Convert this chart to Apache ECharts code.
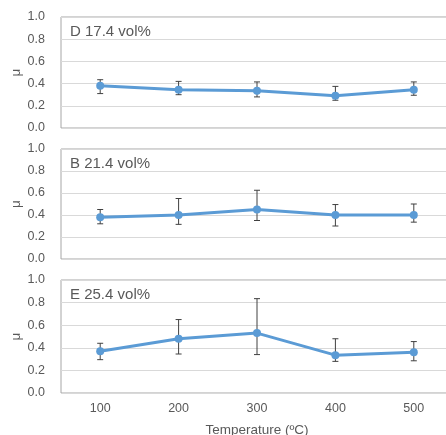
<!DOCTYPE html>
<html>
<head>
<meta charset="utf-8">
<script src="https://cdn.jsdelivr.net/npm/echarts@6/dist/echarts.min.js"></script>
<style>
  html, body { margin: 0; padding: 0; background: #fff; }
  #chart { width: 446px; height: 435px; }
</style>
</head>
<body>
<div id="chart"></div>
<script>
// temperatures (°C)
const temps = ['100', '200', '300', '400', '500']
const panelNames = ['D 17.4 vol%', 'B 21.4 vol%', 'E 25.4 vol%']

// mean friction coefficient per panel
const muD = [0.38, 0.345, 0.335, 0.29, 0.345]
const muB = [0.38, 0.40, 0.45, 0.40, 0.40]
const muE = [0.37, 0.48, 0.53, 0.335, 0.36]

// error bar lows / highs
const lowD = [0.31, 0.30, 0.28, 0.25, 0.295]
const highD = [0.435, 0.42, 0.415, 0.375, 0.415]
const lowB = [0.32, 0.315, 0.35, 0.30, 0.335]
const highB = [0.45, 0.55, 0.625, 0.495, 0.50]
const lowE = [0.295, 0.345, 0.34, 0.28, 0.285]
const highE = [0.44, 0.65, 0.835, 0.48, 0.455]

const means = [muD, muB, muE]
const lows = [lowD, lowB, lowE]
const highs = [highD, highB, highE]

const grids = [
  { left: 61, width: 392, top: 17, height: 111 },
  { left: 61, width: 392, top: 149, height: 110 },
  { left: 61, width: 392, top: 280, height: 113 },
]

const font = 'Liberation Sans, Arial, sans-serif'
const labelColor = '#595959'

const chart = echarts.init(document.getElementById('chart'))

const xAxes = [], yAxes = [], series = [], titles = []
grids.forEach((g, i) => {
  const last = i === grids.length - 1
  xAxes.push({
    gridIndex: i,
    type: 'category',
    data: temps,
    boundaryGap: true,
    axisLine: { show: false },
    axisTick: { show: false },
    axisLabel: { show: last, color: labelColor, fontSize: 12.5, fontFamily: font, margin: 9 },
    name: last ? 'Temperature (ºC)' : '',
    nameLocation: 'middle',
    nameGap: 30,
    nameMoveOverlap: false,
    nameTextStyle: { color: labelColor, fontSize: 13.5, fontFamily: font },
  })
  yAxes.push({
    gridIndex: i,
    type: 'value',
    min: 0, max: 1, interval: 0.2,
    axisLine: { show: false },
    axisTick: { show: false },
    axisLabel: { color: labelColor, fontSize: 12.5, fontFamily: font, margin: 16,
      formatter: v => v.toFixed(1) },
    splitLine: { lineStyle: { color: '#d9d9d9', width: 1 } },
    name: 'μ',
    nameLocation: 'middle',
    nameGap: 38,
    nameMoveOverlap: false,
    nameTextStyle: { color: labelColor, fontSize: 13.5, fontFamily: font },
  })
  titles.push({
    text: panelNames[i],
    left: 70,
    top: g.top + 7,
    padding: 0,
    textStyle: { color: labelColor, fontSize: 15, fontWeight: 'normal', fontFamily: font },
  })
  series.push({
    type: 'custom',
    xAxisIndex: i,
    yAxisIndex: i,
    z: 3,
    data: temps.map((t, k) => [k, lows[i][k], highs[i][k]]),
    renderItem: (params, api) => {
      const lo = api.coord([api.value(0), api.value(1)])
      const hi = api.coord([api.value(0), api.value(2)])
      const st = { stroke: '#404040', lineWidth: 1 }
      return {
        type: 'group',
        children: [
          { type: 'line', shape: { x1: lo[0], y1: lo[1], x2: hi[0], y2: hi[1] }, style: st },
          { type: 'line', shape: { x1: lo[0] - 3, y1: lo[1], x2: lo[0] + 3, y2: lo[1] }, style: st },
          { type: 'line', shape: { x1: hi[0] - 3, y1: hi[1], x2: hi[0] + 3, y2: hi[1] }, style: st },
        ],
      }
    },
  })
  series.push({
    type: 'line',
    xAxisIndex: i,
    yAxisIndex: i,
    z: 4,
    data: means[i],
    symbol: 'circle',
    symbolSize: 8,
    lineStyle: { color: '#5b9bd5', width: 3 },
    itemStyle: { color: '#5b9bd5' },
  })
})

chart.setOption({
  animation: false,
  title: titles,
  grid: grids.map(g => Object.assign({
    show: true, borderColor: '#a6a6a6', borderWidth: 1,
    containLabel: false, outerBoundsMode: 'none',
  }, g)),
  xAxis: xAxes,
  yAxis: yAxes,
  series: series,
})
</script>
</body>
</html>
